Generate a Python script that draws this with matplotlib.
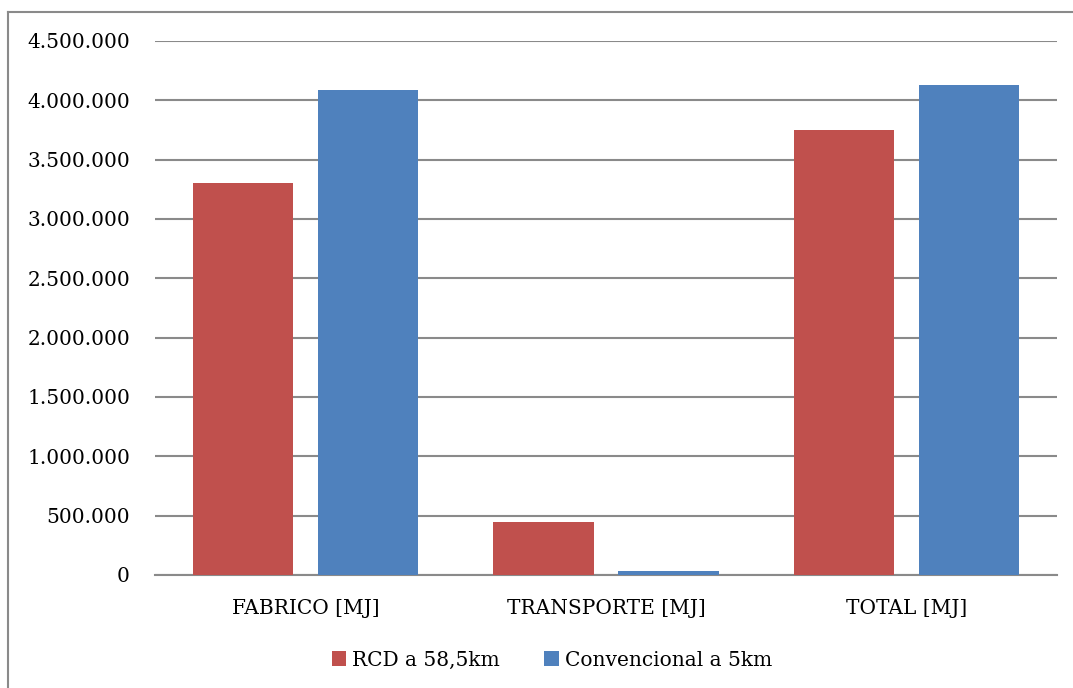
import matplotlib.pyplot as plt
from matplotlib.lines import Line2D
from matplotlib.ticker import FuncFormatter
import numpy as np

categories = ["FABRICO [MJ]", "TRANSPORTE [MJ]", "TOTAL [MJ]"]
series_names = ["RCD a 58,5km", "Convencional a 5km"]
rcd_values = [3300000, 447000, 3747000]
conv_values = [4087000, 30000, 4129000]
yticks = [0, 500000, 1000000, 1500000, 2000000, 2500000, 3000000, 3500000, 4000000, 4500000]

RED = '#C0504D'
BLUE = '#4F81BD'
GRID = '#8A8A8A'

plt.rcParams['font.family'] = ['DejaVu Serif']

fig = plt.figure(figsize=(10.73, 6.88), dpi=100)
ax = fig.add_axes([155/1073, 1 - 575/688, (1057-155)/1073, (575-41)/688])

x = np.arange(len(categories))
w = 0.333
off = 0.2078
ax.bar(x - off, rcd_values, w, color=RED, label=series_names[0], zorder=3)
ax.bar(x + off, conv_values, w, color=BLUE, label=series_names[1], zorder=3)

ax.set_xlim(-0.5, len(categories) - 0.5)
ax.set_ylim(0, 4500000)
ax.set_yticks(yticks)

def fmt(v, pos):
  if v == 0:
    return '0'
  return '{:,.0f}'.format(v).replace(',', '.')
ax.yaxis.set_major_formatter(FuncFormatter(fmt))

ax.set_xticks(x)
ax.set_xticklabels(categories)
ax.tick_params(axis='y', length=0, pad=18, labelsize=14.5)
ax.tick_params(axis='x', length=0, pad=17, labelsize=14.5)

ax.yaxis.grid(True, color=GRID, linewidth=1.5, zorder=0)
for s in ['left', 'right', 'top']:
  ax.spines[s].set_visible(False)
ax.spines['bottom'].set_color(GRID)
ax.spines['bottom'].set_linewidth(1.5)
ax.spines['bottom'].set_zorder(2)

# outer chart border (only top and left visible, rest is cut off)
bx, by = 8/1073, 1 - 12/688
fig.add_artist(Line2D([bx, 1.0], [by, by], transform=fig.transFigure, color=GRID, linewidth=1.5))
fig.add_artist(Line2D([bx, bx], [0.0, by], transform=fig.transFigure, color=GRID, linewidth=1.5))

fig.legend(loc='center', bbox_to_anchor=(552/1073, 1 - 660/688), ncol=2, frameon=False,
           fontsize=14.5, handlelength=0.7, handleheight=0.7, handletextpad=0.3,
           columnspacing=2.2)

plt.savefig('out.png', dpi=100)
